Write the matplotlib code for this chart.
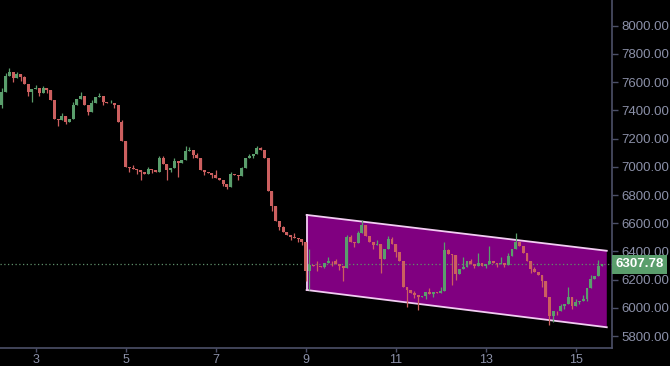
import numpy as np
import matplotlib
matplotlib.use("Agg")
import matplotlib.pyplot as plt
from matplotlib.transforms import blended_transform_factory

# ---------------- data ----------------
start_day = 2.25          # first candle time (day of month)
step_hours = 2            # candle interval
first_open = 7440

closes = [
    7530, 7640, 7670, 7630, 7655, 7635, 7590, 7530, 7550, 7560,
    7525, 7555, 7545, 7470, 7340, 7335, 7360, 7320, 7340, 7440,
    7480, 7500, 7440, 7390, 7450, 7495, 7500, 7460, 7450, 7455,
    7440, 7320, 7180, 7000, 6990, 6985, 6975, 6960, 6950, 6985,
    6975, 6960, 7060, 7020, 6975, 6995, 7040, 7030, 7045, 7110,
    7120, 7085, 7065, 6980, 6960, 6955, 6940, 6920, 6905, 6880,
    6860, 6950, 6940, 6935, 6990, 7060, 7075, 7090, 7130, 7120,
    7060, 6830, 6720, 6615, 6570, 6540, 6520, 6505, 6495, 6485,
    6465, 6260, 6305, 6300, 6295, 6290, 6315, 6335, 6330, 6310,
    6300, 6280, 6500, 6470, 6460, 6530, 6590, 6510, 6465, 6445,
    6450, 6350, 6420, 6490, 6450, 6395, 6330, 6150, 6130, 6105,
    6095, 6080, 6085, 6110, 6100, 6110, 6105, 6120, 6410, 6385,
    6375, 6240, 6275, 6290, 6330, 6310, 6300, 6315, 6300, 6310,
    6335, 6315, 6310, 6320, 6305, 6370, 6420, 6470, 6440, 6390,
    6330, 6275, 6255, 6235, 6190, 6080, 5940, 5980, 5975, 6015,
    6025, 6080, 6015, 6040, 6050, 6065, 6140, 6205, 6225, 6300,
    6307.78,
]

high_idx = [0, 1, 2, 4, 6, 9, 11, 13, 16, 19, 21, 24, 26, 29, 32, 35, 39, 42, 43, 46,
            49, 50, 52, 57, 61, 64, 66, 68, 69, 75, 78, 81, 82, 84, 87, 89, 92, 93, 95, 96,
            98, 100, 103, 104, 110, 114, 117, 118, 119, 123, 125, 127, 130, 133, 135, 137,
            139, 142, 149, 151, 153, 155, 157, 159]
high_val = [7560, 7665, 7700, 7670, 7640, 7580, 7570, 7545, 7380, 7460, 7530, 7470, 7520, 7475, 7330, 7010, 7000, 7080, 7075, 7060,
            7150, 7140, 7100, 6975, 6965, 7000, 7090, 7150, 7140, 6580, 6530, 6470, 6420, 6330, 6360, 6350, 6520, 6520, 6545, 6620,
            6500, 6480, 6510, 6500, 6120, 6140, 6150, 6470, 6420, 6360, 6345, 6390, 6440, 6360, 6390, 6530,
            6420, 6290, 6030, 6150, 6060, 6090, 6230, 6340]

low_idx = [0, 3, 5, 7, 8, 10, 12, 15, 17, 20, 23, 27, 30, 34, 36, 37, 40, 44, 45, 47,
           51, 54, 56, 59, 60, 63, 67, 72, 74, 77, 79, 80, 81, 82, 84, 86, 88, 90, 91, 94,
           99, 101, 105, 108, 110, 111, 113, 115, 120, 121, 122, 126, 129, 132, 134, 141,
           144, 146, 147, 148, 150, 152, 154, 156]
low_val = [7420, 7600, 7610, 7505, 7460, 7500, 7520, 7290, 7300, 7450, 7370, 7440, 7420, 6965, 6950, 6905, 6955, 6905, 6960, 6930,
           7060, 6940, 6920, 6865, 6845, 6910, 7060, 6690, 6550, 6480, 6470, 6445, 6190, 6130, 6260, 6280, 6300, 6270, 6190, 6430,
           6420, 6250, 6360, 6010, 6070, 5985, 6060, 6080, 6160, 6200, 6250, 6280, 6285, 6290, 6290, 6250,
           6150, 5880, 5900, 5950, 5990, 5990, 6025, 6050]

last_price = 6307.78

channel_days = [9.02, 15.69, 15.69, 9.02]
channel_prices = [6659, 6405, 5863, 6127]

y_ticks = [5800, 6000, 6200, 6400, 6600, 6800, 7000, 7200, 7400, 7600, 7800, 8000]
x_ticks = [3, 5, 7, 9, 11, 13, 15]

# ---------------- derived OHLC ----------------
closes = np.array(closes, dtype=float)
n = len(closes)
opens = np.concatenate([[first_open], closes[:-1]])
highs = np.maximum(opens, closes)
lows = np.minimum(opens, closes)
for i, v in zip(high_idx, high_val):
    highs[i] = max(highs[i], v)
for i, v in zip(low_idx, low_val):
    lows[i] = min(lows[i], v)
step = step_hours / 24.0
times = start_day + np.arange(n) * step

# ---------------- figure ----------------
bg = "#000000"
axis_col = "#4c5068"
text_col = "#8b90a8"
green = "#5a9e6c"
red = "#cc5f5f"

fig = plt.figure(figsize=(6.7, 3.66), dpi=100, facecolor=bg)
ax = fig.add_axes([0.0, 18 / 366, 612 / 670, 348 / 366])
ax.set_facecolor(bg)

ax.set_xlim(2.207, 15.806)
ax.set_ylim(5716, 8182)

# channel
ax.fill(channel_days, channel_prices, color="#800080", zorder=1, lw=0)
edge = "#f2cdf2"
ax.plot([channel_days[0], channel_days[1]], [channel_prices[0], channel_prices[1]], color=edge, lw=1.3, zorder=2)
ax.plot([channel_days[3], channel_days[2]], [channel_prices[3], channel_prices[2]], color=edge, lw=1.3, zorder=2)
ax.plot([channel_days[0], channel_days[3]], [channel_prices[0], channel_prices[3]], color=edge, lw=1.3, zorder=2)

# last price dotted line
ax.axhline(last_price, color="#5f8f6a", lw=0.9, ls=(0, (1, 2)), zorder=3)

# candles
cols = np.where(closes >= opens, green, red)
ax.vlines(times, lows, highs, colors=cols, lw=0.9, zorder=4)
body_h = np.abs(closes - opens)
body_h = np.maximum(body_h, 5)
ax.bar(times, body_h, bottom=np.minimum(opens, closes), width=step * 0.78,
       color=cols, lw=0, zorder=5)

# axes styling
for s in ["top", "left"]:
    ax.spines[s].set_visible(False)
for s in ["right", "bottom"]:
    ax.spines[s].set_color(axis_col)
    ax.spines[s].set_linewidth(1.2)

ax.yaxis.tick_right()
ax.set_yticks(y_ticks)
ax.set_yticklabels([f"{v:.2f}" for v in y_ticks])
ax.set_xticks(x_ticks)
ax.set_xticklabels([str(v) for v in x_ticks])
ax.tick_params(axis="y", colors=axis_col, labelcolor=text_col, length=4, width=1, pad=3,
               labelsize=9.5)
ax.tick_params(axis="x", colors=axis_col, labelcolor=text_col, length=3, width=1, pad=1,
               labelsize=9)
for lab in ax.get_xticklabels() + ax.get_yticklabels():
    lab.set_fontfamily("Liberation Sans")

# partially visible top label
tr = blended_transform_factory(ax.transAxes, ax.transData)
ax.text(1.0 + 9 / 612, 8200, "8200.00", transform=tr, color=text_col, fontsize=9.5,
        family="Liberation Sans", va="center", ha="left", clip_on=False)

# last price label box
ax.text(1.0 + 3 / 612, last_price, "6307.78", transform=tr, color="white", fontsize=9.5,
        fontweight="bold", family="Liberation Sans", va="center", ha="left", clip_on=False,
        bbox=dict(boxstyle="square,pad=0.25", fc=green, ec="none"), zorder=10)

fig.savefig("out.png", dpi=100, facecolor=bg)
